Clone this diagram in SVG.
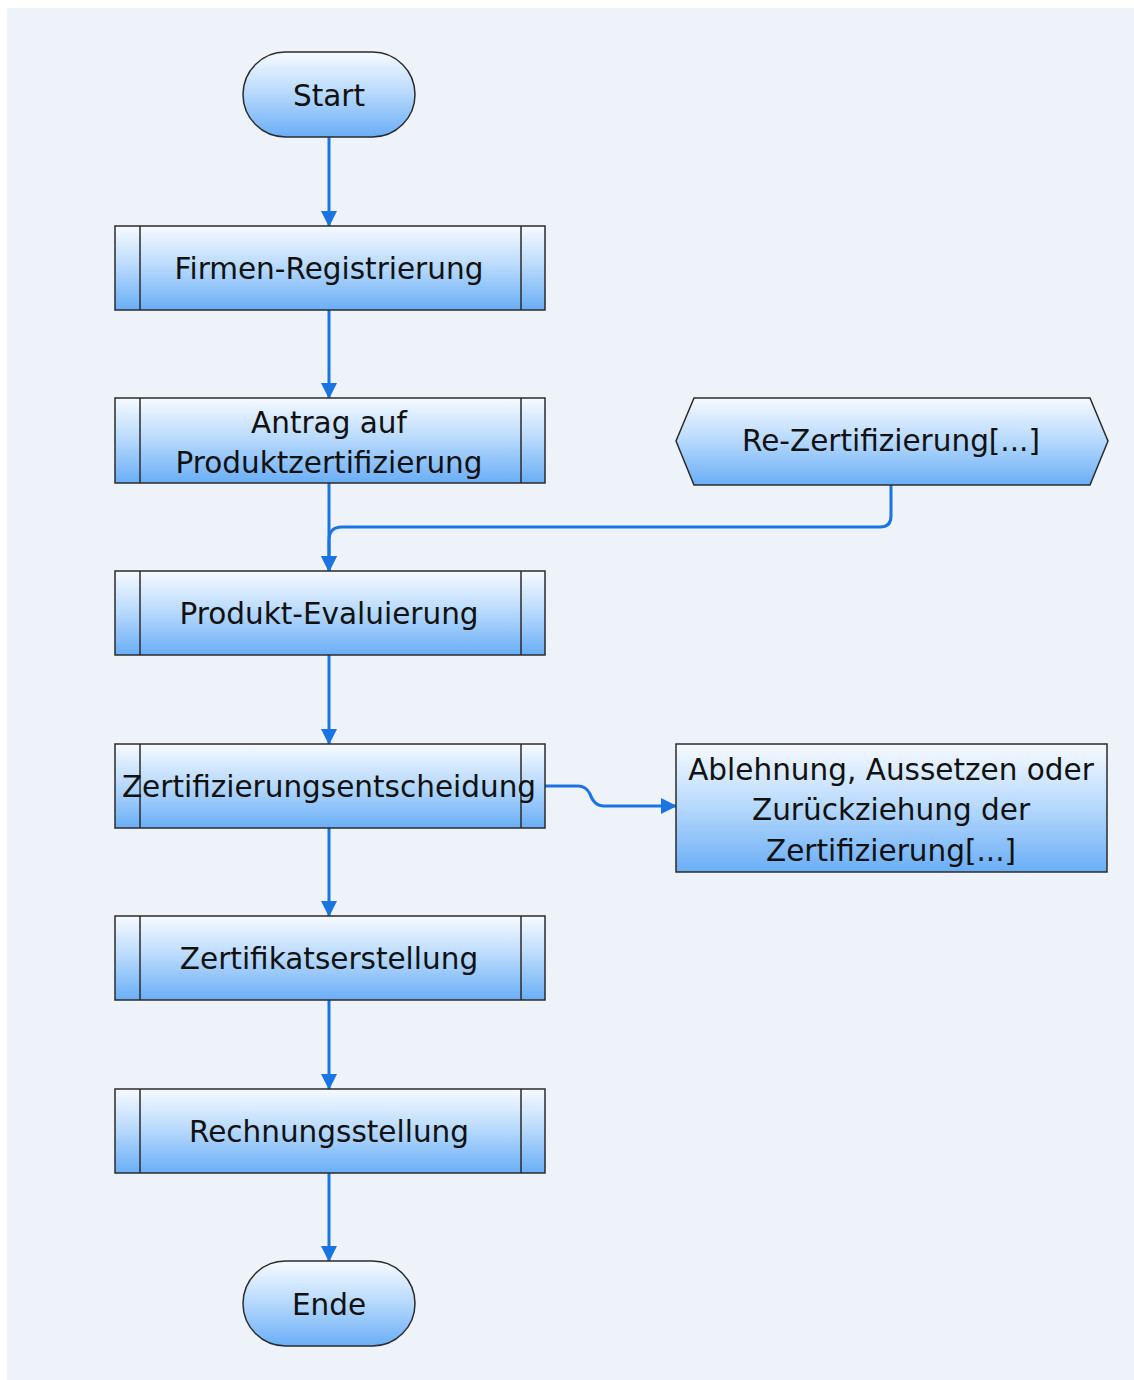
<svg xmlns="http://www.w3.org/2000/svg" width="1134" height="1380" viewBox="0 0 1134 1380">
<defs>
<linearGradient id="g" x1="0" y1="0" x2="0" y2="1">
<stop offset="0" stop-color="#f7faff"/>
<stop offset="0.45" stop-color="#bcdcfd"/>
<stop offset="1" stop-color="#6aaef6"/>
</linearGradient>
<marker id="ah" viewBox="0 0 16 16" refX="15" refY="8" markerWidth="16" markerHeight="16" markerUnits="userSpaceOnUse" orient="auto">
<path d="M0,0 L16,8 L0,16 Z" fill="#1a74e2"/>
</marker>
<style>
.sh{fill:url(#g);stroke:#2b2b2b;stroke-width:1.5}
.ln{fill:none;stroke:#2b2b2b;stroke-width:1.5}
.t{font-family:"DejaVu Sans",Verdana,sans-serif;font-size:29.5px;fill:#111;text-anchor:middle}
.c{fill:none;stroke:#1a74e2;stroke-width:3}
</style>
</defs>
<rect x="0" y="0" width="1134" height="1380" fill="#ffffff"/>
<rect x="7" y="8" width="1127" height="1372" fill="#eef3fa"/>
<g id="connectors">
<path class="c" d="M329,137 V226" marker-end="url(#ah)"/>
<path class="c" d="M329,310 V398" marker-end="url(#ah)"/>
<path class="c" d="M329,483 V571" marker-end="url(#ah)"/>
<path class="c" d="M891,485 V516 Q891,527 880,527 H342 Q329,527 329,540 V571" marker-end="url(#ah)"/>
<path class="c" d="M329,655 V744" marker-end="url(#ah)"/>
<path class="c" d="M545,786 H578 Q586,786 590,794 Q594,806 604,806 H676" marker-end="url(#ah)"/>
<path class="c" d="M329,828 V916" marker-end="url(#ah)"/>
<path class="c" d="M329,1000 V1089" marker-end="url(#ah)"/>
<path class="c" d="M329,1173 V1261" marker-end="url(#ah)"/>
</g>
<g id="start">
<rect class="sh" x="243" y="52" width="172" height="85" rx="42.5" ry="42.5"/>
<text class="t" x="329" y="106">Start</text>
</g>
<g id="firmen">
<rect class="sh" x="115" y="226" width="430" height="84"/>
<path class="ln" d="M140,226 V310 M521,226 V310"/>
<text class="t" x="329" y="279">Firmen-Registrierung</text>
</g>
<g id="antrag">
<rect class="sh" x="115" y="398" width="430" height="85"/>
<path class="ln" d="M140,398 V483 M521,398 V483"/>
<text class="t" x="329" y="433">Antrag auf</text>
<text class="t" x="329" y="473">Produktzertifizierung</text>
</g>
<g id="rezert">
<path class="sh" d="M694,398 H1090 L1108,441 L1090,485 H694 L676,441 Z"/>
<text class="t" x="891" y="451">Re-Zertifizierung[...]</text>
</g>
<g id="evaluierung">
<rect class="sh" x="115" y="571" width="430" height="84"/>
<path class="ln" d="M140,571 V655 M521,571 V655"/>
<text class="t" x="329" y="624">Produkt-Evaluierung</text>
</g>
<g id="entscheidung">
<rect class="sh" x="115" y="744" width="430" height="84"/>
<path class="ln" d="M140,744 V828 M521,744 V828"/>
<text class="t" x="329" y="797">Zertifizierungsentscheidung</text>
</g>
<g id="ablehnung">
<rect class="sh" x="676" y="744" width="431" height="128"/>
<text class="t" x="891" y="780">Ablehnung, Aussetzen oder</text>
<text class="t" x="891" y="820">Zurückziehung der</text>
<text class="t" x="891" y="861">Zertifizierung[...]</text>
</g>
<g id="zertifikat">
<rect class="sh" x="115" y="916" width="430" height="84"/>
<path class="ln" d="M140,916 V1000 M521,916 V1000"/>
<text class="t" x="329" y="969">Zertifikatserstellung</text>
</g>
<g id="rechnung">
<rect class="sh" x="115" y="1089" width="430" height="84"/>
<path class="ln" d="M140,1089 V1173 M521,1089 V1173"/>
<text class="t" x="329" y="1142">Rechnungsstellung</text>
</g>
<g id="ende">
<rect class="sh" x="243" y="1261" width="172" height="85" rx="42.5" ry="42.5"/>
<text class="t" x="329" y="1315">Ende</text>
</g>
</svg>
